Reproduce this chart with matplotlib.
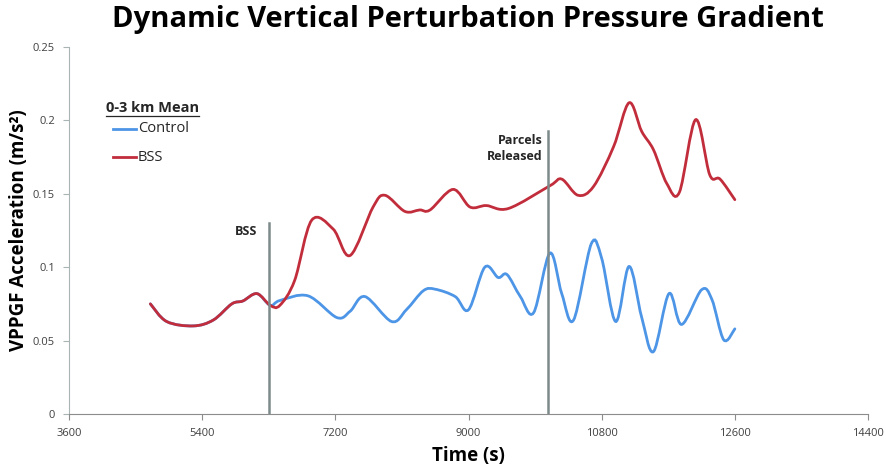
import numpy as np
import matplotlib.pyplot as plt
from matplotlib.path import Path
from matplotlib.patches import PathPatch

plt.rcParams['font.family'] = ['Open Sans', 'DejaVu Sans']

# -----------------------------
# data
# -----------------------------
# before the BSS time both runs are identical
time_pre = [4700, 4920, 5280, 5550, 5800, 5950, 6140, 6320]
val_pre = [0.075, 0.063, 0.060, 0.064, 0.075, 0.077, 0.082, 0.074]

time_bss = [6450, 6650, 6880, 7170, 7400, 7710, 7870, 8140, 8340, 8480,
            8790, 9020, 9240, 9540, 10100, 10260, 10480, 10690, 10960,
            11170, 11340, 11500, 11680, 11850, 12070, 12260, 12400, 12600]
bss = [0.074, 0.091, 0.132, 0.126, 0.108, 0.141, 0.149, 0.138, 0.139, 0.139,
       0.153, 0.141, 0.142, 0.140, 0.1555, 0.160, 0.149, 0.155, 0.182,
       0.212, 0.1926, 0.180, 0.157, 0.151, 0.2005, 0.163, 0.160, 0.146]

time_ctl = [6450, 6830, 7220, 7400, 7600, 7960, 8160, 8390, 8550, 8820,
            9000, 9220, 9400, 9520, 9700, 9880, 10100, 10260, 10420, 10660,
            10800, 10990, 11170, 11340, 11500, 11710, 11880, 12150, 12290,
            12450, 12600]
control = [0.0773, 0.0805, 0.0657, 0.070, 0.080, 0.063, 0.071, 0.084, 0.085,
           0.080, 0.071, 0.100, 0.093, 0.095, 0.080, 0.069, 0.1096, 0.082,
           0.064, 0.116, 0.106, 0.063, 0.1005, 0.066, 0.0425, 0.082, 0.061,
           0.0846, 0.078, 0.0505, 0.058]

events = [6300, 10080]
event_tops = [0.130, 0.193]

x_ticks = [3600, 5400, 7200, 9000, 10800, 12600, 14400]
y_ticks = [0, 0.05, 0.1, 0.15, 0.2, 0.25]
y_labels = ['0', '0.05', '0.1', '0.15', '0.2', '0.25']

blue = '#4D95E6'
red = '#C22D3C'
grey = '#7E8B8B'


def smooth_path(xs, ys):
    # Catmull-Rom through the points, drawn as cubic bezier segments
    p = np.column_stack([xs, ys]).astype(float)
    ext = np.vstack([p[0], p, p[-1]])
    verts = [p[0]]
    codes = [Path.MOVETO]
    for i in range(1, len(ext) - 2):
        c1 = ext[i] + (ext[i + 1] - ext[i - 1]) / 6
        c2 = ext[i + 1] - (ext[i + 2] - ext[i]) / 6
        verts += [c1, c2, ext[i + 1]]
        codes += [Path.CURVE4] * 3
    return Path(verts, codes)


fig = plt.figure(figsize=(8.87, 4.72), dpi=100)
ax = fig.add_axes([0.0778, 0.1229, 0.9008, 0.7775])

ctl_path = smooth_path(time_pre + time_ctl, val_pre + control)
bss_path = smooth_path(time_pre + time_bss, val_pre + bss)
ax.add_patch(PathPatch(ctl_path, facecolor='none', edgecolor=blue, lw=2.0,
                       capstyle='round', zorder=3))
ax.add_patch(PathPatch(bss_path, facecolor='none', edgecolor=red, lw=2.0,
                       capstyle='round', zorder=4))

for t, top in zip(events, event_tops):
    ax.plot([t, t], [0, top], color=grey, lw=1.8, zorder=5)

ax.text(events[0] - 150, 0.124, 'BSS', ha='right', va='center',
        fontsize=9, fontweight='bold', color='#262626')
ax.text(events[1] - 80, 0.181, 'Parcels\nReleased', ha='right', va='center',
        fontsize=9, fontweight='bold', color='#262626', linespacing=1.25)

ax.set_xlim(3600, 14400)
ax.set_ylim(0, 0.25)
ax.set_xticks(x_ticks)
ax.set_yticks(y_ticks)
ax.set_yticklabels(y_labels)
ax.tick_params(labelsize=8, colors='#404040', length=4, width=0.8, pad=6)
ax.tick_params(axis='y', colors='#A9B5B5', labelcolor='#404040')
ax.tick_params(axis='x', colors='#8C8C8C', labelcolor='#404040')
for s in ['top', 'right']:
    ax.spines[s].set_visible(False)
ax.spines['left'].set_color('#A9B5B5')
ax.spines['bottom'].set_color('#8C8C8C')

ax.set_xlabel('Time (s)', fontsize=13.5, fontweight='bold', labelpad=5)
ax.set_ylabel('VPPGF Acceleration (m/s²)', fontsize=13.5,
              fontweight='bold', va='center')
ax.yaxis.set_label_coords(-0.063, 0.5)
fig.suptitle('Dynamic Vertical Perturbation Pressure Gradient', fontsize=21,
             fontweight='bold', x=0.527, y=0.99)

# hand-made legend
head = ax.text(0.046, 0.823, '0-3 km Mean', transform=ax.transAxes,
               fontsize=10.5, fontweight='bold', color='#262626',
               va='baseline')
fig.canvas.draw()
bb = head.get_window_extent().transformed(ax.transAxes.inverted())
ax.plot([bb.x0, bb.x1], [0.813, 0.813], transform=ax.transAxes,
        color='#262626', lw=0.9)
ax.plot([0.055, 0.084], [0.7766, 0.7766], transform=ax.transAxes,
        color=blue, lw=2.0)
ax.text(0.086, 0.7766, 'Control', transform=ax.transAxes, fontsize=10.5,
        color='#262626', va='center')
ax.plot([0.055, 0.084], [0.700, 0.700], transform=ax.transAxes,
        color=red, lw=2.0)
ax.text(0.086, 0.700, 'BSS', transform=ax.transAxes, fontsize=10.5,
        color='#262626', va='center')

plt.savefig('out.png', dpi=100)
